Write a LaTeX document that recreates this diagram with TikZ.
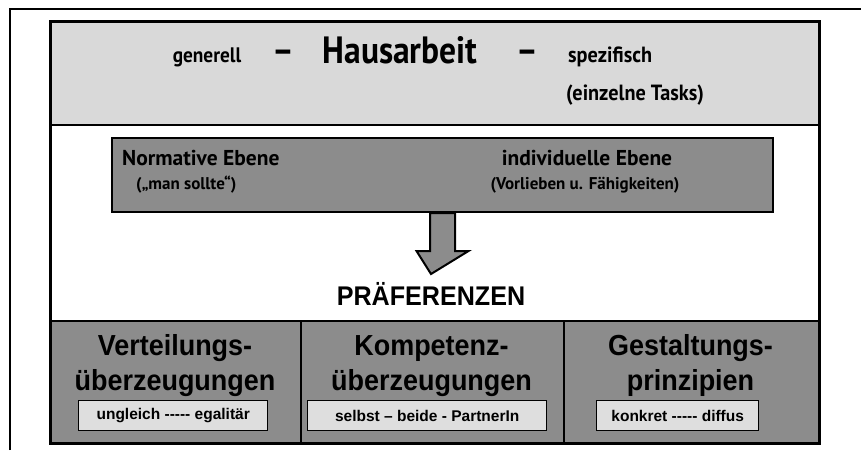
\documentclass[tikz,border=0pt]{standalone}
\usepackage{fontspec}
\setmainfont{Liberation Sans}
\newfontfamily\gillfont{PT Sans}
\usetikzlibrary{calc}
\definecolor{bandgray}{HTML}{D9D9D9}
\definecolor{boxgray}{HTML}{8C8C8C}
\definecolor{tagfill}{HTML}{DEDEDE}
\tikzset{
  frameline/.style={line width=2pt, draw=black},
  darkbox/.style={draw=black, line width=1.6pt, fill=boxgray, inner sep=0pt, anchor=north west},
  tagbox/.style={draw=black, line width=1.4pt, fill=tagfill, inner sep=0pt, anchor=north west},
  gilltxt/.style={font=\gillfont\bfseries\fontsize{21}{23}\selectfont, anchor=base, inner sep=0pt, xscale=0.92},
  midtxt/.style={font=\gillfont\bfseries\fontsize{21.5}{23}\selectfont, anchor=base west, inner sep=0pt},
  midsub/.style={font=\gillfont\bfseries\fontsize{17}{19}\selectfont, anchor=base west, inner sep=0pt},
  headtxt/.style={font=\bfseries\fontsize{29}{31}\selectfont, anchor=base, inner sep=0pt, xscale=0.93},
  tagtxt/.style={font=\bfseries\fontsize{15.5}{17}\selectfont, anchor=center, inner sep=0pt},
}
\begin{document}
\begin{tikzpicture}[x=1pt,y=-1pt]
\useasboundingbox (0,0) rectangle (861,450);
% outer frame
\draw[frameline] (10,450) -- (10,9) -- (861,9);
% main box
\node[draw=black, line width=2pt, fill=white, minimum width=768pt, minimum height=421pt, inner sep=0pt, anchor=north west] (main) at (50,21) {};
\node[draw=black, line width=2pt, fill=bandgray, minimum width=768pt, minimum height=103pt, inner sep=0pt, anchor=north west] (band) at (50,21) {};
% top band texts
\node[gilltxt] (gen) at (207,62) {generell};
\node[gilltxt, font=\gillfont\bfseries\fontsize{36}{38}\selectfont] (dash1) at (283,62) {–};
\node[gilltxt, font=\gillfont\bfseries\fontsize{38}{40}\selectfont, xscale=0.96] (haus) at (400,63) {Hausarbeit};
\node[gilltxt, font=\gillfont\bfseries\fontsize{36}{38}\selectfont] (dash2) at (527,62) {–};
\node[gilltxt, anchor=base west, font=\gillfont\bfseries\fontsize{22}{24}\selectfont] (spez) at (568,62) {spezifisch};
\node[gilltxt, anchor=base west, font=\gillfont\bfseries\fontsize{22}{24}\selectfont] (tasks) at (566,100) {(einzelne Tasks)};
% middle box
\node[darkbox, line width=2pt, minimum width=661pt, minimum height=74pt] (mid) at (111,137) {};
\node[midtxt] (norm) at (122,165) {Normative Ebene};
\node[midsub] (soll) at (136,189) {(„man sollte“)};
\node[midtxt, anchor=base] (indiv) at (587,165) {individuelle Ebene};
\node[midsub, anchor=base] (vorl) at (585,189) {(Vorlieben u. Fähigkeiten)};
% preference label
\node[headtxt, font=\bfseries\fontsize{27}{29}\selectfont, xscale=1] (pref) at (431,305) {PRÄFERENZEN};
% arrow from middle box to preferences
\coordinate (atip) at (431,274);
\filldraw[fill=boxgray, draw=black, line width=2pt, line join=miter]
  ($(mid.south)+(-12.5,0)$) -- ($(mid.south)+(12.5,0)$) -- ($(mid.south)+(12.5,38)$)
  -- ($(mid.south)+(26,38)$) -- (atip) -- ($(mid.south)+(-26,38)$)
  -- ($(mid.south)+(-12.5,38)$) -- cycle;
% bottom boxes
\node[darkbox, minimum width=250pt, minimum height=122pt] (c1) at (50,320) {};
\node[darkbox, minimum width=263pt, minimum height=122pt] (c2) at (300,320) {};
\node[darkbox, minimum width=255pt, minimum height=122pt] (c3) at (563,320) {};
\draw[line width=2pt] (main.south west) rectangle (main.north east);
% column texts
\node[headtxt] (v1) at (175,355) {Verteilungs-};
\node[headtxt] (v2) at (175,390) {überzeugungen};
\node[headtxt] (k1) at (431.5,355) {Kompetenz-};
\node[headtxt] (k2) at (431.5,390) {überzeugungen};
\node[headtxt] (g1) at (690.5,355) {Gestaltungs-};
\node[headtxt] (g2) at (690.5,390) {prinzipien};
% tag boxes
\node[tagbox, minimum width=189pt, minimum height=30pt] (t1) at (78,400) {};
\node[tagtxt] (t1txt) at (t1.center) {ungleich -{}-{}-{}-{}- egalitär};
\node[tagbox, minimum width=239pt, minimum height=30pt] (t2) at (307,400) {};
\node[tagtxt] (t2txt) at (t2.center) {selbst – beide - PartnerIn};
\node[tagbox, minimum width=162pt, minimum height=30pt] (t3) at (596,400) {};
\node[tagtxt] (t3txt) at (t3.center) {konkret -{}-{}-{}-{}- diffus};
\end{tikzpicture}
\end{document}
